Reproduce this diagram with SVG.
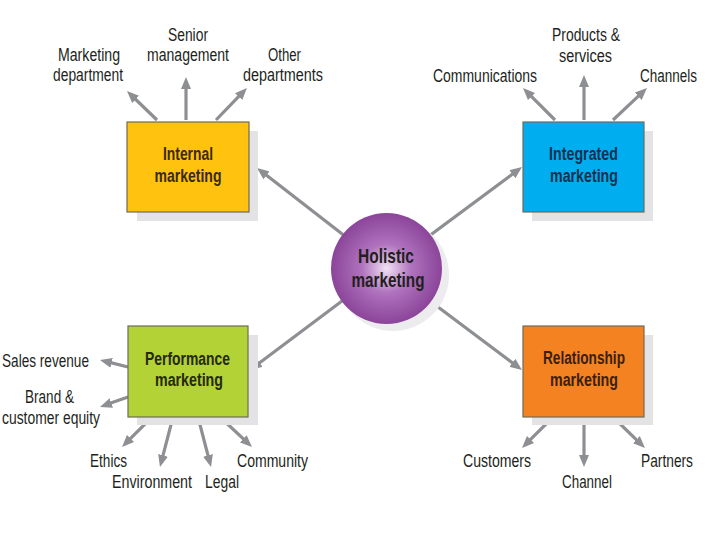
<svg xmlns="http://www.w3.org/2000/svg" width="720" height="540" viewBox="0 0 720 540">
<style>
.lbl{font-family:"Liberation Sans",Arial,sans-serif;font-size:17.5px;fill:#231f20;text-anchor:middle}
.bt{font-family:"Liberation Sans",Arial,sans-serif;font-size:18px;font-weight:bold;text-anchor:middle}
.box{stroke:#6d6a5a;stroke-width:1.2}
.sh{fill:#e3e3e5}
.con line{stroke:#8e8f92;stroke-width:3.2;marker-end:url(#ah)}
</style>
<defs>
<marker id="ah" viewBox="0 0 12 10" markerWidth="12" markerHeight="10" markerUnits="userSpaceOnUse" refX="2" refY="5" orient="auto">
<path d="M0,0 L12,5 L0,10 z" fill="#8e8f92"/>
</marker>
<radialGradient id="cg" cx="0.5" cy="0.5" r="0.55">
<stop offset="0" stop-color="#f1e2f3"/>
<stop offset="0.4" stop-color="#b073be"/>
<stop offset="1" stop-color="#843c93"/>
</radialGradient>
</defs>
<rect width="720" height="540" fill="#fff"/>
<g class="con" id="connectors">
<line x1="386" y1="268" x2="264.9" y2="174.1"/>
<line x1="386" y1="268" x2="514" y2="173"/>
<line x1="386" y1="268" x2="258" y2="364"/>
<line x1="386" y1="268" x2="514" y2="364"/>
<line x1="157" y1="120" x2="134.2" y2="98"/>
<line x1="186" y1="120" x2="186" y2="87"/>
<line x1="216" y1="120" x2="240" y2="95.2"/>
<line x1="555" y1="120" x2="530.1" y2="95.1"/>
<line x1="584" y1="120" x2="584" y2="85"/>
<line x1="613" y1="120" x2="639.7" y2="94.9"/>
<line x1="128" y1="367" x2="109.7" y2="362.4"/>
<line x1="128" y1="397" x2="109.4" y2="403.6"/>
<line x1="152" y1="417" x2="129.1" y2="439.9"/>
<line x1="173" y1="417" x2="162.5" y2="457.3"/>
<line x1="198" y1="417" x2="208.5" y2="457.3"/>
<line x1="220" y1="417" x2="244.7" y2="440.2"/>
<line x1="553" y1="417" x2="529.1" y2="440.9"/>
<line x1="584" y1="417" x2="584" y2="457"/>
<line x1="613" y1="417" x2="637.8" y2="441.1"/>
</g>
<g id="holistic">
<circle cx="393" cy="275" r="56" fill="#ececee"/>
<circle cx="386.5" cy="268.5" r="55.5" fill="url(#cg)"/>
<text class="bt" x="386" y="263" style="font-size:21px" fill="#231f20" textLength="56" lengthAdjust="spacingAndGlyphs">Holistic</text>
<text class="bt" x="388" y="287" style="font-size:21px" fill="#231f20" textLength="73" lengthAdjust="spacingAndGlyphs">marketing</text>
</g>
<g id="internal">
<rect class="sh" x="137" y="131" width="121" height="90"/>
<rect class="box" x="127" y="122" width="122" height="90" fill="#ffc20e"/>
<text class="bt" x="188" y="160" fill="#3b2a12" textLength="50" lengthAdjust="spacingAndGlyphs">Internal</text>
<text class="bt" x="188" y="182" fill="#3b2a12" textLength="67" lengthAdjust="spacingAndGlyphs">marketing</text>
</g>
<g id="integrated">
<rect class="sh" x="532" y="131" width="121" height="90"/>
<rect class="box" x="523" y="122" width="121" height="90" fill="#00aeef"/>
<text class="bt" x="583.5" y="160" fill="#13324f" textLength="69" lengthAdjust="spacingAndGlyphs">Integrated</text>
<text class="bt" x="584" y="182" fill="#13324f" textLength="68" lengthAdjust="spacingAndGlyphs">marketing</text>
</g>
<g id="performance">
<rect class="sh" x="137" y="335" width="121" height="90"/>
<rect class="box" x="128" y="326" width="120" height="91" fill="#b2d235"/>
<text class="bt" x="187.5" y="365" fill="#25290f" textLength="85" lengthAdjust="spacingAndGlyphs">Performance</text>
<text class="bt" x="189" y="386" fill="#25290f" textLength="68" lengthAdjust="spacingAndGlyphs">marketing</text>
</g>
<g id="relationship">
<rect class="sh" x="532" y="335" width="121" height="90"/>
<rect class="box" x="523" y="326" width="121" height="91" fill="#f58220"/>
<text class="bt" x="584" y="364" fill="#3b1e0c" textLength="82" lengthAdjust="spacingAndGlyphs">Relationship</text>
<text class="bt" x="584" y="386" fill="#3b1e0c" textLength="68" lengthAdjust="spacingAndGlyphs">marketing</text>
</g>
<g id="labels-internal">
<text class="lbl" x="89" y="61" textLength="62" lengthAdjust="spacingAndGlyphs">Marketing</text>
<text class="lbl" x="88" y="81" textLength="70" lengthAdjust="spacingAndGlyphs">department</text>
<text class="lbl" x="188" y="41" textLength="40" lengthAdjust="spacingAndGlyphs">Senior</text>
<text class="lbl" x="188" y="61" textLength="82" lengthAdjust="spacingAndGlyphs">management</text>
<text class="lbl" x="284.5" y="61" textLength="33" lengthAdjust="spacingAndGlyphs">Other</text>
<text class="lbl" x="283" y="81" textLength="80" lengthAdjust="spacingAndGlyphs">departments</text>
</g>
<g id="labels-integrated">
<text class="lbl" x="485" y="82" textLength="104" lengthAdjust="spacingAndGlyphs">Communications</text>
<text class="lbl" x="586" y="41" textLength="68" lengthAdjust="spacingAndGlyphs">Products &amp;</text>
<text class="lbl" x="585.5" y="62" textLength="53" lengthAdjust="spacingAndGlyphs">services</text>
<text class="lbl" x="668.5" y="82" textLength="57" lengthAdjust="spacingAndGlyphs">Channels</text>
</g>
<g id="labels-performance">
<text class="lbl" x="45.5" y="367" textLength="87" lengthAdjust="spacingAndGlyphs">Sales revenue</text>
<text class="lbl" x="49.5" y="403" textLength="49" lengthAdjust="spacingAndGlyphs">Brand &amp;</text>
<text class="lbl" x="51" y="424" textLength="98" lengthAdjust="spacingAndGlyphs">customer equity</text>
<text class="lbl" x="108.5" y="467" textLength="37" lengthAdjust="spacingAndGlyphs">Ethics</text>
<text class="lbl" x="152" y="488" textLength="80" lengthAdjust="spacingAndGlyphs">Environment</text>
<text class="lbl" x="222" y="488" textLength="34" lengthAdjust="spacingAndGlyphs">Legal</text>
<text class="lbl" x="272.5" y="467" textLength="71" lengthAdjust="spacingAndGlyphs">Community</text>
</g>
<g id="labels-relationship">
<text class="lbl" x="497" y="467" textLength="68" lengthAdjust="spacingAndGlyphs">Customers</text>
<text class="lbl" x="587" y="488" textLength="50" lengthAdjust="spacingAndGlyphs">Channel</text>
<text class="lbl" x="667" y="467" textLength="52" lengthAdjust="spacingAndGlyphs">Partners</text>
</g>
</svg>
